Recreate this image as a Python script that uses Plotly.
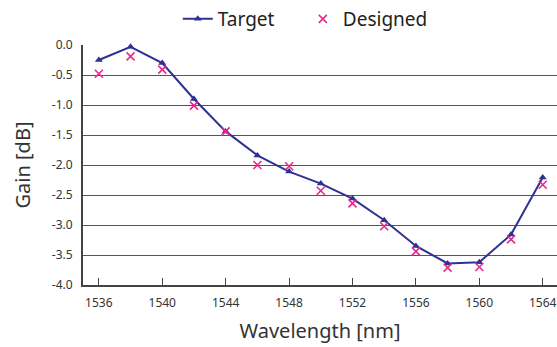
import plotly.graph_objects as go

wavelength = [1536, 1538, 1540, 1542, 1544, 1546, 1548, 1550, 1552, 1554, 1556, 1558, 1560, 1562, 1564]
target = [-0.25, -0.03, -0.30, -0.90, -1.44, -1.84, -2.11, -2.31, -2.56, -2.92, -3.35, -3.64, -3.62, -3.16, -2.21]
designed = [-0.48, -0.19, -0.41, -1.01, -1.44, -2.00, -2.02, -2.43, -2.64, -3.02, -3.44, -3.71, -3.70, -3.24, -2.33]
y_tick_vals = [0.0, -0.5, -1.0, -1.5, -2.0, -2.5, -3.0, -3.5, -4.0]
y_tick_text = ["0.0", "-0.5", "-1.0", "-1.5", "-2.0", "-2.5", "-3.0", "-3.5", "-4.0"]

FONT = "Noto Sans"
NAVY = "#2e3192"
PINK = "#e8288c"

fig = go.Figure()
fig.add_trace(go.Scatter(
    x=wavelength, y=target, name="Target", mode="lines+markers",
    line=dict(color=NAVY, width=2),
    marker=dict(symbol="triangle-up", size=7, color=NAVY),
    cliponaxis=False,
))
fig.add_trace(go.Scatter(
    x=wavelength, y=designed, name="Designed", mode="markers",
    marker=dict(symbol="x-thin", size=8, line=dict(color=PINK, width=1.6), color=PINK),
    cliponaxis=False,
))

fig.update_layout(
    width=557, height=347,
    margin=dict(l=83, r=0, t=44, b=62),
    paper_bgcolor="white", plot_bgcolor="white",
    font=dict(family=FONT, color="#333333"),
    showlegend=True,
    legend=dict(orientation="h", x=0.20, xanchor="left", y=1.03, yanchor="bottom",
                font=dict(size=19, color="#222222", family=FONT),
                itemwidth=30, entrywidth=80, entrywidthmode="pixels",
                bgcolor="rgba(0,0,0,0)"),
    xaxis=dict(
        range=[1535, 1564.9], tickvals=[1536, 1540, 1544, 1548, 1552, 1556, 1560, 1564],
        ticks="inside", ticklen=7, tickcolor="#444", tickwidth=1,
        showgrid=False, zeroline=False,
        showline=True, linecolor="#444", linewidth=2,
        ticklabelstandoff=6,
        tickfont=dict(size=12, color="#333"),
        title=dict(text="Wavelength [nm]", font=dict(size=20, color="#333"), standoff=14),
    ),
    yaxis=dict(
        range=[-4.0, 0.0], tickvals=y_tick_vals, ticktext=y_tick_text,
        showgrid=True, gridcolor="#555555", gridwidth=1.2,
        zeroline=False, showline=True, linecolor="#444", linewidth=2,
        ticks="", ticklabelstandoff=6, tickfont=dict(size=12, color="#333"),
        title=dict(text="Gain [dB]", font=dict(size=20, color="#333"), standoff=16),
    ),
)

fig.write_html("out.html")
